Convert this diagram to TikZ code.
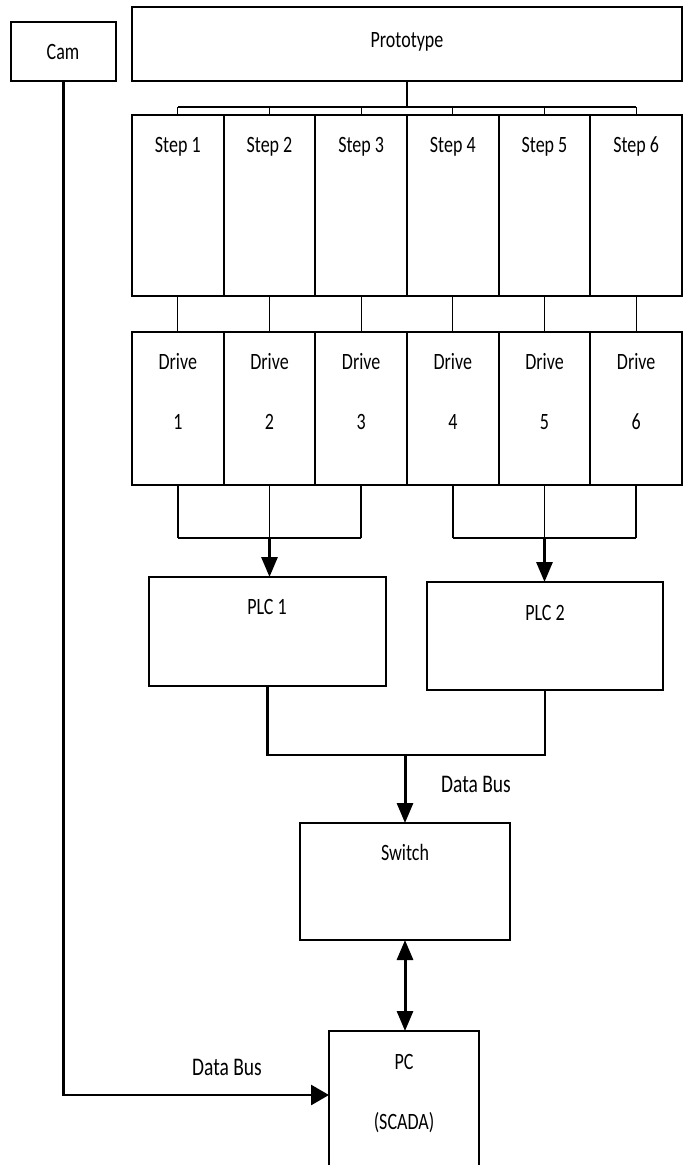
\documentclass[tikz,border=0pt]{standalone}
\usepackage{fontspec}
\setmainfont{Carlito}
\usetikzlibrary{arrows.meta}
\newcommand{\tx}[1]{\scalebox{1}[1.3]{#1}}
\begin{document}
\begin{tikzpicture}[x=1pt,y=-1pt,
  box/.style={draw, line width=1.8pt, inner sep=0pt, outer sep=0pt, anchor=north west},
  lbl/.style={anchor=base, inner sep=0pt, font=\fontsize{18}{20}\selectfont},
  biglbl/.style={anchor=base, inner sep=0pt, font=\fontsize{19.5}{22}\selectfont},
  thinline/.style={line width=1pt},
  midline/.style={line width=1.8pt},
  thickline/.style={line width=2.8pt},
  arr/.style={line width=3pt, -{Triangle[length=20pt,width=16pt]}},
  darr/.style={line width=3pt, {Triangle[length=20pt,width=16pt]}-{Triangle[length=20pt,width=16pt]}},
]
\fill[white] (0,0) rectangle (689,1165);
\useasboundingbox (0,0) rectangle (689,1165);

% boxes
\node[box, minimum width=105pt, minimum height=59pt] (cam) at (11,22) {};
\node[box, minimum width=550pt, minimum height=74pt] (proto) at (132,7) {};
\foreach \i in {1,...,6} {
  \pgfmathsetmacro{\xx}{132+(\i-1)*91.667}
  \node[box, minimum width=91.667pt, minimum height=181pt] (s\i) at (\xx,115) {};
  \node[box, minimum width=91.667pt, minimum height=153pt] (d\i) at (\xx,332) {};
  \pgfmathsetmacro{\cx}{\xx+45.833}
  \node[lbl] (st\i) at (\cx,152) {\tx{Step \i}};
  \node[lbl] (dv\i) at (\cx,369) {\tx{Drive}};
  \node[lbl] (dn\i) at (\cx,429) {\tx{\i}};
}
\node[box, minimum width=237pt, minimum height=109pt] (plc1) at (149,577) {};
\node[box, minimum width=236pt, minimum height=108pt] (plc2) at (427,582) {};
\node[box, minimum width=210pt, minimum height=117pt] (sw) at (300,823) {};
\node[box, minimum width=150pt, minimum height=140pt] (pc) at (329,1031) {};

% labels
\node[lbl] (camt) at (63,59) {\tx{Cam}};
\node[lbl] (protot) at (407,47) {\tx{Prototype}};
\node[lbl] (plc1t) at (267,614) {\tx{PLC 1}};
\node[lbl] (plc2t) at (545,620) {\tx{PLC 2}};
\node[lbl] (swt) at (405,860) {\tx{Switch}};
\node[lbl] (pct) at (404,1069) {\tx{PC}};
\node[lbl] (scadat) at (404,1129) {\tx{(SCADA)}};
\node[biglbl] (db1) at (476,792) {\tx{Data Bus}};
\node[biglbl] (db2) at (227,1075) {\tx{Data Bus}};

% prototype bus
\coordinate (busy) at ([yshift=8pt]s1.north);
\draw[thickline] (proto.south) -- (proto.south |- busy);
\draw[thickline] (busy) -- ([yshift=8pt]s6.north);
\foreach \i in {1,...,6} {
  \draw[thinline] (s\i.north) -- ([yshift=8pt]s\i.north);
  \draw[thinline] (s\i.south) -- (d\i.north);
}

% drives to PLCs
\coordinate (c1) at ([yshift=-53pt]d1.south);
\draw[midline] (d1.south) -- (d1.south |- c1);
\draw[midline] (d3.south) -- (d3.south |- c1);
\draw[thickline] (d1.south |- c1) -- (d3.south |- c1);
\draw[midline] (d2.south) -- (d2.south |- c1);
\draw[arr] (d2.south |- c1) -- (d2.south |- plc1.north);
\draw[midline] (d4.south) -- (d4.south |- c1);
\draw[midline] (d6.south) -- (d6.south |- c1);
\draw[thickline] (d4.south |- c1) -- (d6.south |- c1);
\draw[midline] (d5.south) -- (d5.south |- c1);
\draw[arr] (d5.south |- c1) -- (d5.south |- plc2.north);

% PLCs to switch
\coordinate (j) at ([yshift=68pt]sw.north);
\draw[thickline] (plc1.south) -- (plc1.south |- j) -- (plc2.south |- j) -- (plc2.south);
\draw[arr] (j) -- (sw.north);

% switch <-> PC
\draw[darr] (sw.south) -- (pc.north -| sw.south);

% cam to PC
\coordinate (camin) at ([yshift=6pt]pc.west);
\draw[line width=2.8pt, -{Triangle[length=18pt,width=20pt]}] (cam.south) |- (camin);
\end{tikzpicture}
\end{document}
